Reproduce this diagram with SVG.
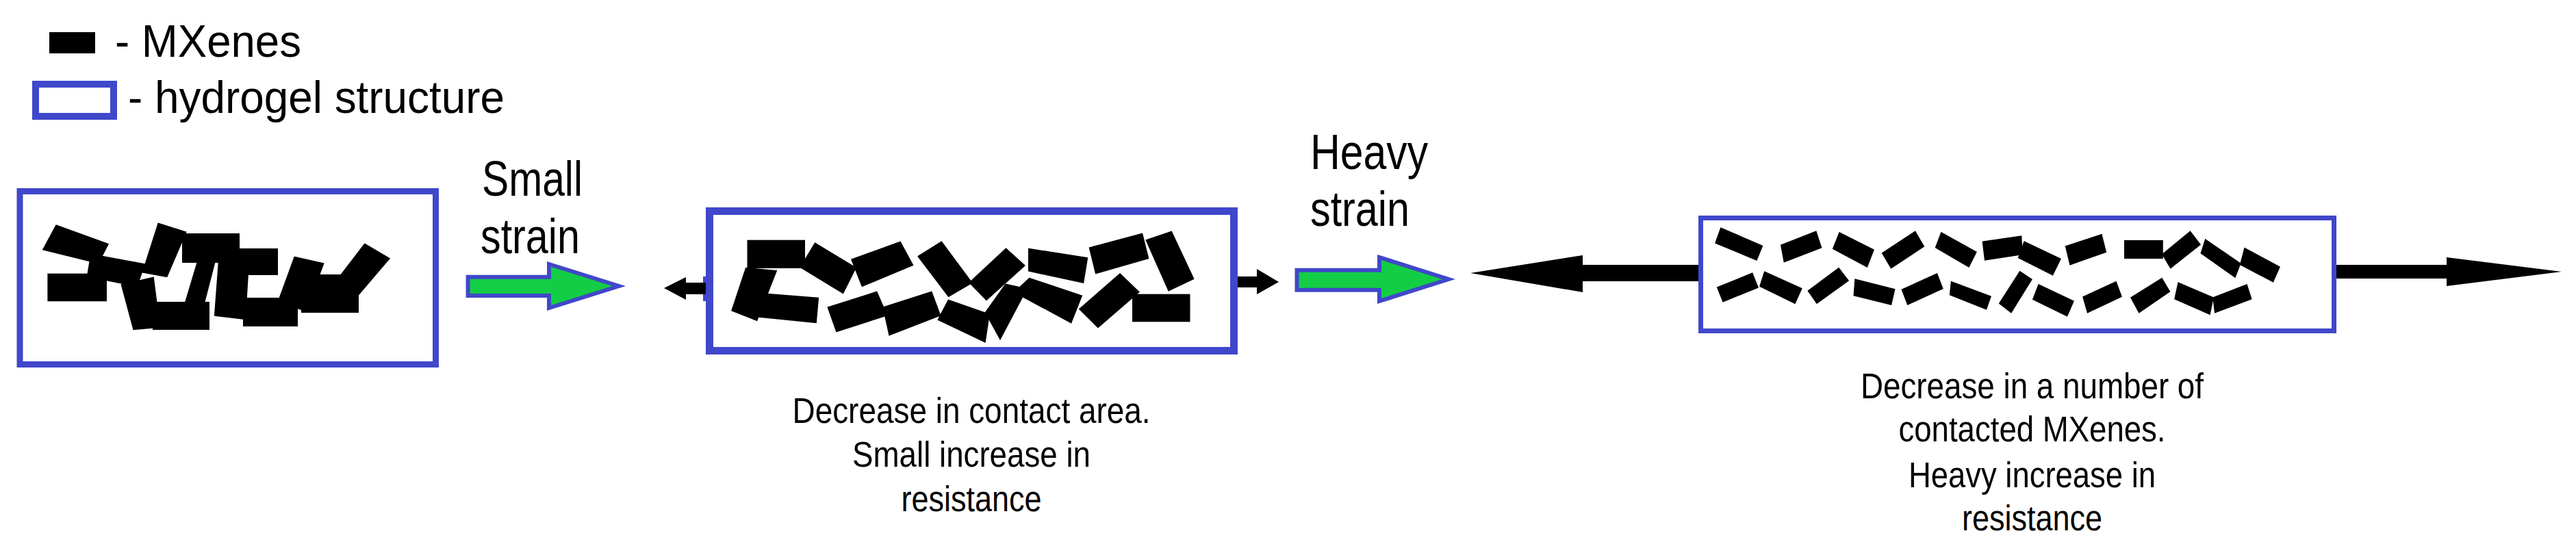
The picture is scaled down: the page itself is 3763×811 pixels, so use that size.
<svg xmlns="http://www.w3.org/2000/svg" width="3763" height="811" viewBox="0 0 3763 811">
<style>
.hg{fill:none;stroke:#4047CA}
.mx{fill:#000}
.thick{stroke:#000;stroke-width:4;stroke-linejoin:miter}
.thin{stroke:#000;stroke-width:1.5;stroke-linejoin:miter}
.t{font-family:"Liberation Sans",Arial,sans-serif;fill:#000}
.lg{font-size:66px}
.lb{font-size:72px}
.cap{font-size:51px;text-anchor:middle}
.ga{fill:#13CE45;stroke:#4047CA;stroke-width:6;stroke-linejoin:miter}
.ba{fill:#000}
</style>
<rect width="3763" height="811" fill="#fff"/>
<g id="legend">
<rect class="mx" x="72" y="47" width="67" height="31"/>
<text class="t lg" x="168" y="83" textLength="272" lengthAdjust="spacingAndGlyphs">- MXenes</text>
<rect class="hg" x="52" y="123" width="114" height="47" stroke-width="10"/>
<text class="t lg" x="187" y="165" textLength="550" lengthAdjust="spacingAndGlyphs">- hydrogel structure</text>
</g>
<g id="box1">
<rect class="hg" x="29" y="279.5" width="607.5" height="253" stroke-width="9"/>
<g class="mx thick">
<polygon points="82.6,330.7 156.3,357.3 142.9,383.3 64.7,364"/>
<rect x="71.4" y="401.7" width="82.6" height="36.6"/>
<polygon points="134,373 210,387 199,417 129,403"/>
<polygon points="232,328 270,340 243,403 210,397"/>
<polygon points="179,417 223,407 232,477 196,480"/>
<rect x="225" y="443" width="79" height="37"/>
<rect x="268" y="343" width="80" height="39"/>
<polygon points="290,382 312,385 297,443 272,442"/>
<rect x="348" y="365" width="56" height="35"/>
<polygon points="321,380 362,383 357,465 315,460"/>
<rect x="357" y="437" width="76" height="38"/>
<polygon points="431,377 471,386 446,453 408,440"/>
<rect x="442" y="418" width="80" height="37"/>
<rect x="464" y="403" width="36" height="17"/>
<polygon points="533,358 567,378 520,433 491,413"/>
</g>
</g>
<g id="box2">
<rect class="hg" x="1036.5" y="308.5" width="766" height="204" stroke-width="11"/>
<rect x="1027" y="404" width="10" height="36" fill="#4047CA"/>
<g class="mx thick">
<rect x="1093.5" y="352.7" width="80.5" height="37.3"/>
<polygon points="1191,357 1248.5,391.7 1231,426.7 1171,390"/>
<polygon points="1245.6,380 1314.5,355 1331.7,386.7 1260,416.7"/>
<polygon points="1343,375 1375,355 1418,413 1386,431.7"/>
<polygon points="1418,413 1469.5,365 1495,388 1441,436.7"/>
<polygon points="1504,365 1587,378 1581.5,411.7 1504,395"/>
<polygon points="1593,363 1667.6,343 1676,376.7 1601.6,398"/>
<polygon points="1676,351.7 1710.6,340 1742,406.7 1707.7,423"/>
<polygon points="1090.6,393 1132.5,396.7 1105,466.7 1070.6,453"/>
<polygon points="1110.7,430 1194,436.7 1191,470 1108,461.7"/>
<polygon points="1211,450 1280,428 1294,460 1222.7,483"/>
<polygon points="1291.6,450 1360,428 1372,460 1300,488"/>
<polygon points="1372,466.7 1386,440 1443.7,460 1438,498"/>
<polygon points="1441,456.7 1469.5,416.7 1498,423 1461,493"/>
<polygon points="1484,426.7 1504,408 1578.6,433 1564,470"/>
<polygon points="1578.6,451.7 1636,401.7 1662,426.7 1604,476.7"/>
<rect x="1656" y="431.7" width="80.5" height="36.6"/>
</g>
</g>
<g id="box3">
<rect class="hg" x="2484.5" y="318.5" width="925" height="165" stroke-width="7"/>
<g class="mx thin">
<polygon points="2513.8,333.3 2574.4,359.3 2566,380 2506,355"/>
<polygon points="2601.8,358.3 2652.8,338.3 2660.5,361.7 2606.3,382.7"/>
<polygon points="2687,340 2737,365 2727.4,390 2677.7,363.3"/>
<polygon points="2749.7,370 2797.6,338.3 2810.3,360 2762.5,391.7"/>
<polygon points="2835.8,340 2886.9,368.3 2876,390 2827.6,361.7"/>
<polygon points="2896.4,353.3 2952.6,345 2953.8,371.7 2899.6,380"/>
<polygon points="2957,353.3 3010,378.3 2998.5,401.7 2948.7,376.7"/>
<polygon points="3017.6,360 3069.9,342.7 3076.3,368.3 3024,386.7"/>
<rect x="3103.7" y="351.7" width="55.3" height="25.6"/>
<polygon points="3159,371.7 3199.4,338.3 3214,357.3 3170.7,391.7"/>
<polygon points="3221.7,350 3272.7,385 3265,405 3215.3,370"/>
<polygon points="3279,362.7 3330,390 3320.5,411.7 3272.7,386.7"/>
<polygon points="2508.7,420 2559.7,399.3 2568,420 2517,440.7"/>
<polygon points="2577.6,397.3 2631.8,421.7 2622,443.3 2571,418.3"/>
<polygon points="2641.3,425 2686,391.7 2700,410 2654,443.3"/>
<polygon points="2710,408.3 2767.6,422.7 2762.5,445 2708.3,431.7"/>
<polygon points="2778.4,423.3 2829.5,400 2837.8,421.7 2786.7,445"/>
<polygon points="2850.5,411.7 2908,433.3 2901.5,451.7 2848.6,430.7"/>
<polygon points="2920.7,443.3 2950.6,396.7 2967.9,408.3 2937.9,456.7"/>
<polygon points="2978,416 3029,440 3019.5,461.7 2969.8,437.3"/>
<polygon points="3043,434 3091,411.7 3099,433.3 3049.5,456.7"/>
<polygon points="3113,435 3158,406.7 3169.4,426 3124.7,456.7"/>
<polygon points="3182,413.3 3233,435 3228,459.3 3177,436.7"/>
<polygon points="3233,435 3282,416 3288.7,436.7 3235.7,456.7"/>
</g>
</g>
<g id="labels">
<text class="t lb" x="704" y="286" textLength="147" lengthAdjust="spacingAndGlyphs">Small</text>
<text class="t lb" x="702" y="370" textLength="145" lengthAdjust="spacingAndGlyphs">strain</text>
<text class="t lb" x="1914" y="247" textLength="172" lengthAdjust="spacingAndGlyphs">Heavy</text>
<text class="t lb" x="1914" y="330" textLength="145" lengthAdjust="spacingAndGlyphs">strain</text>
<text class="t cap" x="1419" y="618" textLength="523" lengthAdjust="spacingAndGlyphs">Decrease in contact area.</text>
<text class="t cap" x="1419" y="682" textLength="348" lengthAdjust="spacingAndGlyphs">Small increase in</text>
<text class="t cap" x="1419" y="747" textLength="205" lengthAdjust="spacingAndGlyphs">resistance</text>
<text class="t cap" x="2968.5" y="582" textLength="501" lengthAdjust="spacingAndGlyphs">Decrease in a number of</text>
<text class="t cap" x="2968.5" y="645" textLength="390" lengthAdjust="spacingAndGlyphs">contacted MXenes.</text>
<text class="t cap" x="2968.5" y="712" textLength="361" lengthAdjust="spacingAndGlyphs">Heavy increase in</text>
<text class="t cap" x="2968.5" y="775" textLength="205" lengthAdjust="spacingAndGlyphs">resistance</text>
</g>
<g id="connectors">
<path class="ga" d="M683.6,404.7 H802 V386 L904,418 L802,450 V432 H683.6 Z"/>
<path class="ga" d="M1894.5,394.7 H2015 V376 L2116,408 L2015,440 V423.7 H1894.5 Z"/>
<polygon class="ba" points="970,421 1002,405 1002,413 1031,413 1031,430 1002,430 1002,438"/>
<polygon class="ba" points="1808,404 1836,404 1836,393 1868,412 1836,430 1836,420 1808,420"/>
<polygon class="ba" points="2148,399 2312,373 2312,387 2481,387 2481,411 2312,411 2312,427"/>
<polygon class="ba" points="3413,387 3574,387 3574,376 3742,397 3574,418 3574,407 3413,407"/>
</g>
</svg>
